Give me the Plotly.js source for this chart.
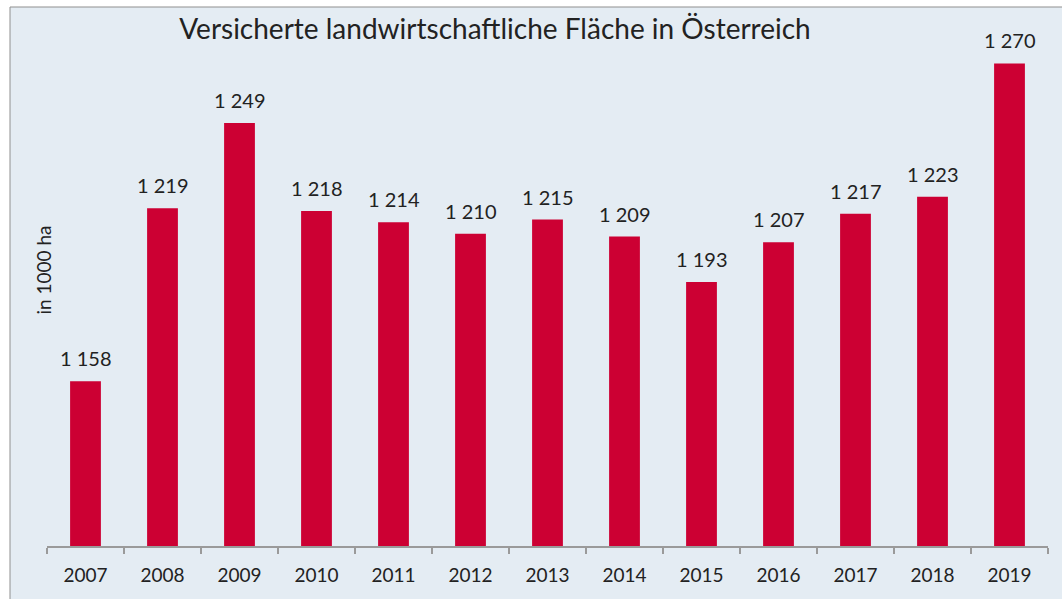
<!DOCTYPE html>
<html><head><meta charset="utf-8">
<script src="https://cdn.plot.ly/plotly-3.0.1.min.js"></script>
<style>html,body{margin:0;padding:0;background:#fff;}#chart{width:1062px;height:599px;}</style>
</head><body><div id="chart"></div>
<script>
const years = ['2007','2008','2009','2010','2011','2012','2013','2014','2015','2016','2017','2018','2019'];
const areaThousandHa = [1158,1219,1249,1218,1214,1210,1215,1209,1193,1207,1217,1223,1270];
const chartTitle = 'Versicherte landwirtschaftliche Fläche in Österreich';
const yLabel = 'in 1000 ha';

const fmt = v => String(v).replace(/\B(?=(\d{3})+$)/g, ' ');

const L = 47, R = 14, T = 35, B = 53, W = 1062, H = 599;
const pw = W - L - R, ph = H - T - B;
const px2x = px => (px - L) / pw;
const py2y = py => (H - B - py) / ph;

const trace = {
  type: 'bar', x: years, y: areaThousandHa,
  marker: {color: '#cc0033'}, hoverinfo: 'skip'
};

const labels = years.map((yr, i) => ({
  x: i, y: areaThousandHa[i], xref: 'x', yref: 'y',
  text: fmt(areaThousandHa[i]), showarrow: false,
  yanchor: 'bottom', yshift: 9,
  font: {family: 'Lato, "Open Sans", sans-serif', size: 20, color: '#222'}
}));

labels.push({
  xref: 'paper', yref: 'paper', x: px2x(29), y: py2y(270),
  text: yLabel, textangle: -90, showarrow: false,
  font: {family: 'Lato, "Open Sans", sans-serif', size: 19, color: '#222'}
});

const layout = {
  width: W, height: H,
  margin: {l: L, r: R, t: T, b: B, pad: 0},
  paper_bgcolor: '#ffffff', plot_bgcolor: 'rgba(0,0,0,0)',
  showlegend: false, bargap: 0.6,
  title: {text: chartTitle, x: 495 / W, xanchor: 'center',
          y: 1 - 29 / H, yanchor: 'middle', yref: 'container', xref: 'container',
          font: {family: 'Lato, "Open Sans", sans-serif', size: 28, color: '#222'}},
  xaxis: {type: 'category', range: [-0.5, years.length - 0.5],
          showline: true, linecolor: '#9a9a9a', linewidth: 1.5,
          ticks: 'outside', tickson: 'boundaries', ticklen: 6, tickcolor: '#9a9a9a', tickwidth: 1.5,
          ticklabelstandoff: 12,
          tickfont: {family: 'Lato, "Open Sans", sans-serif', size: 19, color: '#222'},
          showgrid: false, zeroline: false, fixedrange: true},
  yaxis: {range: [1100, 1280], showticklabels: false, ticks: '', showgrid: false,
          zeroline: false, showline: false, fixedrange: true},
  shapes: [{type: 'rect', xref: 'paper', yref: 'paper', layer: 'below',
            x0: px2x(10), x1: px2x(1080), y0: py2y(620), y1: py2y(7),
            fillcolor: '#e4ecf3', line: {color: '#8f8f8f', width: 1}}],
  annotations: labels
};

Plotly.newPlot('chart', [trace], layout, {displayModeBar: false, staticPlot: true});
</script></body></html>
